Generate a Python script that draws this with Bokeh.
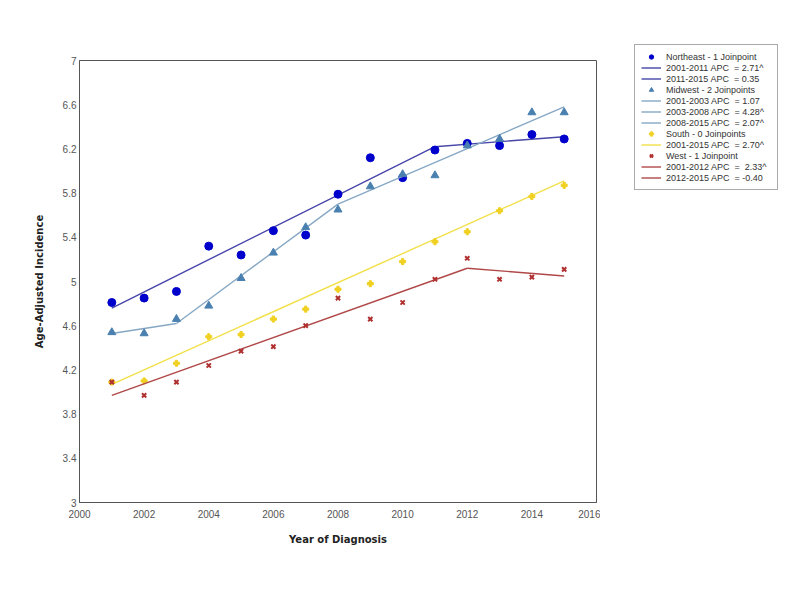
from bokeh.plotting import figure
from bokeh.models import Legend, LegendItem, FixedTicker, Range1d
from bokeh.layouts import row
from bokeh.embed import file_html
from bokeh.resources import INLINE

years = list(range(2001, 2016))
northeast = [4.81, 4.85, 4.91, 5.32, 5.24, 5.46, 5.42, 5.79, 6.12, 5.94, 6.19, 6.25, 6.23, 6.33, 6.29]
midwest = [4.54, 4.53, 4.66, 4.78, 5.03, 5.26, 5.49, 5.65, 5.86, 5.97, 5.96, 6.23, 6.29, 6.53, 6.53]
south = [4.09, 4.10, 4.26, 4.50, 4.52, 4.66, 4.75, 4.93, 4.98, 5.18, 5.36, 5.45, 5.64, 5.77, 5.87]
west = [4.09, 3.97, 4.09, 4.24, 4.37, 4.41, 4.60, 4.85, 4.66, 4.81, 5.02, 5.21, 5.02, 5.04, 5.11]

ne_fit_years = [2001, 2011, 2015]
ne_fit = [4.76, 6.22, 6.31]
mw_fit_years = [2001, 2003, 2008, 2015]
mw_fit = [4.53, 4.62, 5.70, 6.58]
s_fit_years = [2001, 2015]
s_fit = [4.07, 5.91]
w_fit_years = [2001, 2012, 2015]
w_fit = [3.97, 5.12, 5.05]

ne_labels = ["Northeast - 1 Joinpoint", "2001-2011 APC  = 2.71^", "2011-2015 APC  = 0.35"]
mw_labels = ["Midwest - 2 Joinpoints", "2001-2003 APC  = 1.07", "2003-2008 APC  = 4.28^", "2008-2015 APC  = 2.07^"]
s_labels = ["South - 0 Joinpoints", "2001-2015 APC  = 2.70^"]
w_labels = ["West - 1 Joinpoint", "2001-2012 APC  =  2.33^", "2012-2015 APC  = -0.40"]

x_ticks = [2000, 2002, 2004, 2006, 2008, 2010, 2012, 2014, 2016]
y_ticks = [3, 3.4, 3.8, 4.2, 4.6, 5, 5.4, 5.8, 6.2, 6.6, 7]
y_tick_labels = ["3", "3.4", "3.8", "4.2", "4.6", "5", "5.4", "5.8", "6.2", "6.6", "7"]

colors = {
    "ne_pt": "#0000CC", "ne_ln": "#4646A8",
    "mw_pt": "#4A80B0", "mw_ln": "#86A8C4",
    "s_pt": "#F0D020", "s_ln": "#F2E04A",
    "w_pt": "#B03030", "w_ln": "#B04848",
}

p = figure(width=600, height=585, output_backend="svg", toolbar_location=None,
           x_range=Range1d(2000, 2016), y_range=Range1d(3, 7),
           min_border_left=79, min_border_top=60, min_border_right=4, min_border_bottom=83)
p.grid.visible = False
p.outline_line_color = "#555555"
p.outline_line_width = 1

for ax in (p.xaxis[0], p.yaxis[0]):
    ax.axis_line_color = "#555555"
    ax.major_tick_line_color = None
    ax.minor_tick_line_color = None
    ax.major_tick_out = 0
    ax.major_tick_in = 0
    ax.minor_tick_out = 0
    ax.major_label_text_color = "#555555"
    ax.major_label_text_font = "Liberation Sans"
    ax.major_label_text_font_size = "10px"
    ax.axis_label_text_font = "DejaVu Sans"
    ax.axis_label_text_font_style = "bold"
    ax.axis_label_text_font_size = "10px"
    ax.axis_label_text_color = "#222222"

p.xaxis.ticker = FixedTicker(ticks=x_ticks)
p.yaxis.ticker = FixedTicker(ticks=y_ticks)
p.yaxis.major_label_overrides = {t: l for t, l in zip(y_ticks, y_tick_labels)}
p.xaxis.axis_label = "Year of Diagnosis"
p.yaxis.axis_label = "Age-Adjusted Incidence"
p.xaxis.major_label_standoff = 7
p.yaxis.major_label_standoff = 3
p.xaxis.axis_label_standoff = 13
p.yaxis.axis_label_standoff = 15


def segments(xs, ys, color):
    for i in range(len(xs) - 1):
        p.line(xs[i:i + 2], ys[i:i + 2], line_color=color, line_width=1.4)


# data marks
segments(ne_fit_years, ne_fit, colors["ne_ln"])
p.scatter(years, northeast, marker="circle", size=8, fill_color=colors["ne_pt"], line_color=colors["ne_pt"])
segments(mw_fit_years, mw_fit, colors["mw_ln"])
p.scatter(years, midwest, marker="triangle", size=8, fill_color=colors["mw_pt"], line_color=colors["mw_pt"])
segments(s_fit_years, s_fit, colors["s_ln"])
p.scatter(years, south, marker="plus", size=6, fill_color=colors["s_pt"], line_color=colors["s_pt"])
segments(w_fit_years, w_fit, colors["w_ln"])
p.scatter(years, west, marker="x", size=6, line_width=2, line_color=colors["w_pt"])

# legend panel: a separate axis-less figure; its swatch renderers are hidden
# (visible=False) so only the legend box itself is drawn
q = figure(width=190, height=585, output_backend="svg", toolbar_location=None,
           x_range=Range1d(2000, 2016), y_range=Range1d(3, 7),
           x_axis_location=None, y_axis_location=None,
           min_border_left=0, min_border_right=0, min_border_top=0, min_border_bottom=0)
q.grid.visible = False
q.outline_line_color = None
try:
    q.frame_align = False
except Exception:
    pass

items = []

def sw_marker(xs, ys, marker, color, size, lw=1):
    r = q.scatter(xs, ys, marker=marker, size=size, fill_color=color, line_color=color, line_width=lw)
    r.visible = False
    return r

def sw_line(xs, ys, color):
    r = q.line(xs, ys, line_color=color, line_width=1.4)
    r.visible = False
    return r

groups = [
    (ne_labels, sw_marker(years, northeast, "circle", colors["ne_pt"], 6), ne_fit_years, ne_fit, colors["ne_ln"]),
    (mw_labels, sw_marker(years, midwest, "triangle", colors["mw_pt"], 6), mw_fit_years, mw_fit, colors["mw_ln"]),
    (s_labels, sw_marker(years, south, "plus", colors["s_pt"], 5), s_fit_years, s_fit, colors["s_ln"]),
    (w_labels, sw_marker(years, west, "x", colors["w_pt"], 5, 2), w_fit_years, w_fit, colors["w_ln"]),
]
for labels, mk, fx, fy, lc in groups:
    items.append(LegendItem(label=labels[0], renderers=[mk]))
    for lab in labels[1:]:
        items.append(LegendItem(label=lab, renderers=[sw_line(fx, fy, lc)]))

legend = Legend(items=items, location=(34, 395))
legend.label_text_font = "Liberation Sans"
legend.label_text_font_size = "9px"
legend.label_text_line_height = 1.0
legend.label_text_color = "#333333"
legend.label_height = 11
legend.glyph_height = 11
legend.glyph_width = 20
legend.label_width = 105
legend.label_standoff = 5
legend.spacing = 0
legend.padding = 6
legend.margin = 0
legend.border_line_color = "#555555"
legend.border_line_width = 1
legend.background_fill_alpha = 1
legend.inactive_fill_alpha = 0
q.add_layout(legend)

layout = row(p, q)
open("out.html", "w").write(file_html(layout, INLINE))
